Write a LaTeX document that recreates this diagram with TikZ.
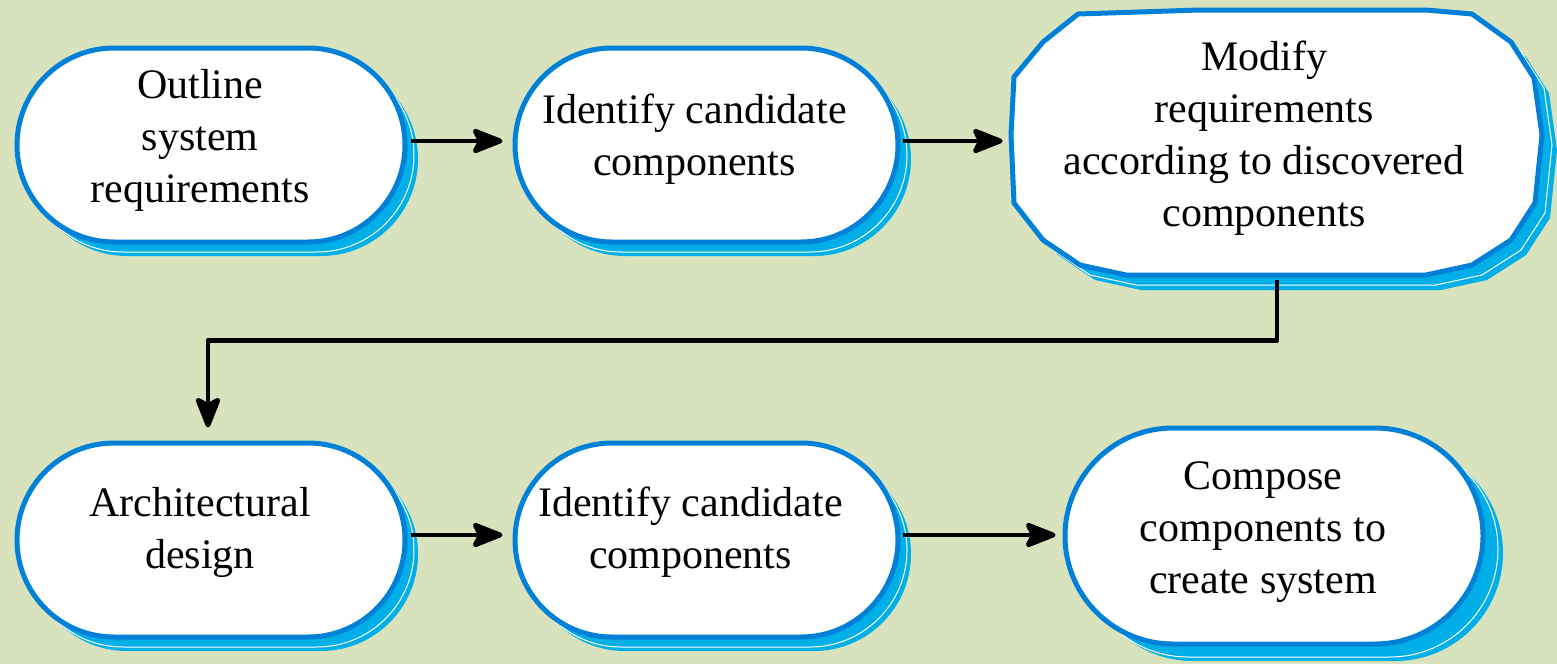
\documentclass[tikz,border=0pt]{standalone}
\usepackage{fontspec}
\setmainfont{Liberation Serif}
\usetikzlibrary{arrows.meta,shapes.misc,shadows}
\definecolor{bg}{RGB}{216,227,190}
\definecolor{edgeblue}{RGB}{0,128,214}
\definecolor{shadowblue}{RGB}{0,174,232}

% outline of the octagonal "Modify requirements" box
\def\octpath{(1078,14) -- (1199,10) -- (1426,10) -- (1472,14) -- (1511,42) -- (1534,78)
  -- (1542,135) -- (1535,203) -- (1511,240) -- (1472,265) -- (1426,275) -- (1126,275)
  -- (1080,265) -- (1043,240) -- (1014,203) -- (1011,135) -- (1014,77) -- (1043,42) -- cycle}

\begin{document}
\begin{tikzpicture}[x=0.5pt,y=-0.5pt,
  stadium/.style={rounded rectangle, rounded rectangle arc length=180,
    draw=edgeblue, line width=2.5pt, fill=white, inner sep=0pt},
  deep/.style n args={4}{
    copy shadow={shadow xshift=#1, shadow yshift=#2, fill=shadowblue, draw=none},
    copy shadow={shadow xshift=#3, shadow yshift=#4, fill=shadowblue, draw=white, line width=0.5pt}},
  txt/.style={align=center, inner sep=0pt, font=\fontsize{21}{26}\selectfont},
  conn/.style={line width=2.4pt, draw=black,
    -{Stealth[length=18pt,width=14pt,inset=3.5pt,round]}}]

% background
\fill[bg] (0,0) rectangle (1557,664);
\useasboundingbox (0,0) rectangle (1557,664);

% rounded boxes
\node[stadium, deep={6.5pt}{-7pt}{4.5pt}{-5pt}, minimum width=194pt, minimum height=97pt] (b1) at (211,145) {};
\node[stadium, deep={6.5pt}{-7pt}{4.5pt}{-5pt}, minimum width=191.5pt, minimum height=97pt] (b2) at (706.5,145) {};
\node[stadium, deep={6.5pt}{-7pt}{4.5pt}{-5pt}, minimum width=194pt, minimum height=97pt] (b4) at (211,540) {};
\node[stadium, deep={6.5pt}{-7pt}{4.5pt}{-5pt}, minimum width=191.5pt, minimum height=97pt] (b5) at (706.5,540) {};
\node[stadium, deep={10pt}{-8.5pt}{7.5pt}{-6.5pt}, minimum width=209pt, minimum height=108pt] (b6) at (1274,536) {};

% octagonal box with its shadow
\begin{scope}[shift={(15,15)}]
  \fill[shadowblue] \octpath;
\end{scope}
\begin{scope}[shift={(10,10)}]
  \filldraw[fill=shadowblue, draw=white, line width=0.5pt] \octpath;
\end{scope}
\filldraw[fill=white, draw=edgeblue, line width=2.5pt, line join=round] \octpath;
\node[rectangle, draw=none, inner sep=0pt, minimum width=266pt, minimum height=132.5pt] (b3) at (1277,142.5) {};

% labels
\node[txt] (t1) at ([xshift=-5.5pt,yshift=2.5pt]b1.center) {Outline\\system\\requirements};
\node[txt] (t2) at ([xshift=-6pt,yshift=3pt]b2.center) {Identify candidate\\components};
\node[txt] (t3) at ([xshift=-6.5pt,yshift=2pt]b3.center) {Modify\\requirements\\according to discovered\\components};
\node[txt] (t4) at ([xshift=-5.5pt,yshift=4pt]b4.center) {Architectural\\design};
\node[txt] (t5) at ([xshift=-8pt,yshift=4pt]b5.center) {Identify candidate\\components};
\node[txt] (t6) at ([xshift=-5.5pt,yshift=2pt]b6.center) {Compose\\components to\\create system};

% connectors
\draw[conn, shorten <=1.5pt, shorten >=5pt] ([yshift=2pt]b1.east) -- ([yshift=2pt]b1.east -| b2.west);
\draw[conn, shorten <=1pt, shorten >=4pt] ([yshift=2pt]b2.east) -- ([yshift=2pt]b2.east -| b3.west);
\draw[conn, shorten <=2.5pt, shorten >=6.5pt, line join=round] (b3.south) -- ++(0,65) -| ([xshift=-1.5pt]b4.north);
\draw[conn, shorten <=1.5pt, shorten >=5pt] ([yshift=2.5pt]b4.east) -- ([yshift=2.5pt]b4.east -| b5.west);
\draw[conn, shorten <=1pt, shorten >=3.5pt] ([yshift=2.5pt]b5.east) -- ([yshift=2.5pt]b5.east -| b6.west);
\end{tikzpicture}
\end{document}
